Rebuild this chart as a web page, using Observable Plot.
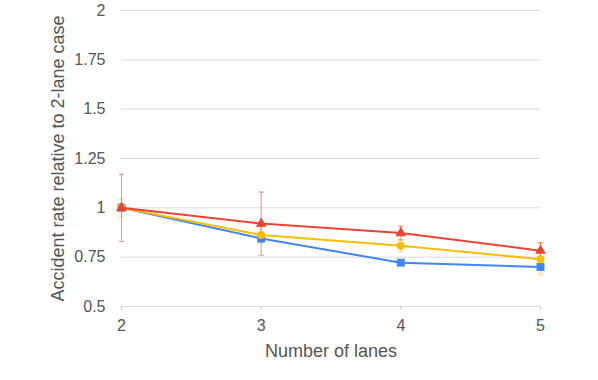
<!DOCTYPE html>
<html>
<head>
<meta charset="utf-8">
<script src="https://cdn.jsdelivr.net/npm/d3@7"></script>
<script src="https://cdn.jsdelivr.net/npm/@observablehq/plot@0.6"></script>
<style>
  html, body { margin: 0; padding: 0; background: #fff; }
</style>
</head>
<body>
<div id="chart"></div>
<script>
const lanes = [2, 3, 4, 5];
const yTicks = [0.5, 0.75, 1, 1.25, 1.5, 1.75, 2];

const blueVals = [1.0, 0.845, 0.722, 0.700];
const blueErr = [0.02, 0.02, 0.01, 0.01];
const yellowVals = [1.0, 0.862, 0.808, 0.740];
const yellowErr = [0.045, 0.04, 0.03, 0.08];
const redVals = [1.0, 0.920, 0.872, 0.783];
const redErr = [0.17, 0.16, 0.035, 0.04];

const seriesDefs = [
  {name: "blue", vals: blueVals, err: blueErr, color: "#4285F4", symbol: "square", r: 4.5},
  {name: "yellow", vals: yellowVals, err: yellowErr, color: "#FBBC04", symbol: "circle", r: 4},
  {name: "red", vals: redVals, err: redErr, color: "#EA4335", symbol: "triangle", r: 4}
];

const rows = seriesDefs.flatMap(s => lanes.map((l, i) => ({
  series: s.name, lanes: l, value: s.vals[i], lo: s.vals[i] - s.err[i], hi: s.vals[i] + s.err[i]
})));

const capSymbol = {
  draw(context, size) {
    const w = Math.sqrt(size);
    context.moveTo(-w, 0);
    context.lineTo(w, 0);
  }
};

const textColor = "#555555";

const marks = [
  Plot.gridY(yTicks, {stroke: "#d9d9d9", strokeOpacity: 1, strokeWidth: 1}),
  Plot.axisY(yTicks, {tickSize: 0, tickPadding: 16, tickFormat: d => String(d), fontSize: 16, fill: textColor, label: null}),
  Plot.axisX(lanes, {tickSize: 4, stroke: "#cccccc", tickPadding: 9, tickFormat: d => String(d), fontSize: 16, fill: textColor, label: null}),
  Plot.text(["Accident rate relative to 2-lane case"], {frameAnchor: "left", textAnchor: "middle", lineAnchor: "middle", dx: -63, rotate: -90, fontSize: 18, fill: textColor}),
  Plot.text(["Number of lanes"], {frameAnchor: "bottom", textAnchor: "middle", lineAnchor: "middle", dy: 45, fontSize: 18, fill: textColor}),
];

for (const s of seriesDefs) {
  const d = rows.filter(r => r.series === s.name);
  marks.push(
    Plot.ruleX(d, {x: "lanes", y1: "lo", y2: "hi", stroke: s.color, strokeOpacity: 0.6, strokeWidth: 1}),
    Plot.dot(d, {x: "lanes", y: "lo", symbol: capSymbol, r: 1.5, stroke: s.color, strokeOpacity: 0.6, strokeWidth: 1}),
    Plot.dot(d, {x: "lanes", y: "hi", symbol: capSymbol, r: 1.5, stroke: s.color, strokeOpacity: 0.6, strokeWidth: 1})
  );
}
for (const s of seriesDefs) {
  const d = rows.filter(r => r.series === s.name);
  marks.push(
    Plot.line(d, {x: "lanes", y: "value", stroke: s.color, strokeWidth: 2}),
    Plot.dot(d, {x: "lanes", y: "value", symbol: s.symbol, r: s.r, fill: s.color, stroke: "none"})
  );
}

const chart = Plot.plot({
  width: 598,
  height: 380,
  marginLeft: 121,
  marginRight: 58,
  marginTop: 10,
  marginBottom: 74,
  style: {fontFamily: "'Liberation Sans', Arial, sans-serif", background: "#fff", overflow: "visible"},
  x: {type: "linear", domain: [2, 5]},
  y: {type: "linear", domain: [0.5, 2]},
  marks
});
document.getElementById("chart").appendChild(chart);
</script>
</body>
</html>
